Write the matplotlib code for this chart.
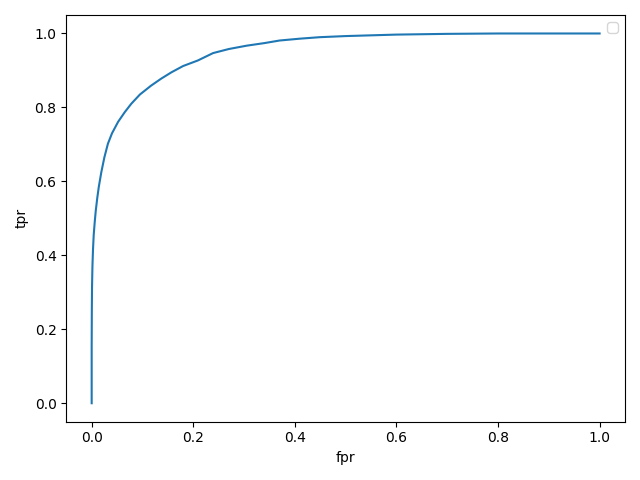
import matplotlib
matplotlib.use('Agg')
import matplotlib.pyplot as plt

# ROC curve points
fpr = [0.0, 0.0, 0.0003, 0.0007, 0.0015, 0.0026, 0.004, 0.006, 0.008, 0.011,
       0.014, 0.019, 0.025, 0.032, 0.04, 0.052, 0.065, 0.078, 0.095, 0.117,
       0.137, 0.157, 0.18, 0.209, 0.239, 0.27, 0.305, 0.34, 0.37, 0.41,
       0.449, 0.5, 0.55, 0.6, 0.7, 0.8, 0.9, 1.0]
tpr = [0.0, 0.15, 0.25, 0.314, 0.37, 0.415, 0.455, 0.49, 0.52, 0.555,
       0.585, 0.625, 0.665, 0.702, 0.73, 0.761, 0.787, 0.81, 0.835, 0.859,
       0.878, 0.895, 0.912, 0.927, 0.947, 0.958, 0.967, 0.974, 0.981, 0.986,
       0.99, 0.993, 0.995, 0.997, 0.999, 1.0, 1.0, 1.0]

fig = plt.figure(figsize=(6.4, 4.8), dpi=100)
plt.plot(fpr, tpr)
plt.xlabel('fpr')
plt.ylabel('tpr')
plt.legend()
plt.tight_layout()
plt.savefig('out.png')
